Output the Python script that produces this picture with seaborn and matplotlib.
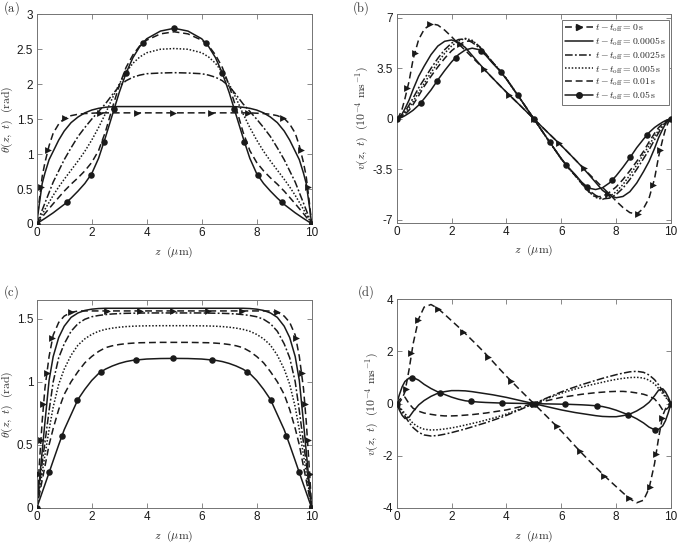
import numpy as np
import pandas as pd
import matplotlib
matplotlib.use("Agg")
import matplotlib.pyplot as plt
from matplotlib.lines import Line2D
import seaborn as sns

# ---------------- data ----------------
z = [0, 0.1, 0.2, 0.3, 0.45, 0.6, 0.8, 1.0, 1.25, 1.5, 1.75, 2.0, 2.25, 2.5, 2.75,
     3.0, 3.25, 3.5, 3.75, 4.0, 4.5, 5.0,
     5.5, 6.0, 6.25, 6.5, 6.75, 7.0, 7.25, 7.5, 7.75, 8.0, 8.25, 8.5, 8.75, 9.0,
     9.2, 9.4, 9.55, 9.7, 9.8, 9.9, 10.0]

labels = ["0", "0.0005", "0.0025", "0.005", "0.01", "0.05"]

# panel (a): theta (rad)
a_t0 = [0, 0.36, 0.68, 0.88, 1.12, 1.30, 1.43, 1.51, 1.55, 1.57, 1.58, 1.585, 1.59, 1.59, 1.59,
        1.59, 1.59, 1.59, 1.59, 1.59, 1.59, 1.59,
        1.59, 1.59, 1.59, 1.59, 1.59, 1.59, 1.59, 1.59, 1.59, 1.585, 1.58, 1.57, 1.55, 1.51,
        1.43, 1.30, 1.12, 0.88, 0.68, 0.36, 0.0]
a_t1 = [0, 0.30, 0.58, 0.73, 0.92, 1.04, 1.20, 1.33, 1.45, 1.53, 1.59, 1.63, 1.655, 1.67, 1.678,
        1.68, 1.68, 1.68, 1.68, 1.68, 1.68, 1.68,
        1.68, 1.68, 1.68, 1.68, 1.68, 1.68, 1.678, 1.67, 1.655, 1.63, 1.59, 1.53, 1.45, 1.33,
        1.20, 1.04, 0.92, 0.73, 0.58, 0.30, 0.0]
a_t2 = [0, 0.10, 0.20, 0.30, 0.45, 0.60, 0.76, 0.92, 1.09, 1.25, 1.38, 1.50, 1.61, 1.72, 1.85,
        1.97, 2.05, 2.10, 2.13, 2.15, 2.16, 2.165,
        2.16, 2.15, 2.13, 2.10, 2.05, 1.97, 1.85, 1.72, 1.61, 1.50, 1.38, 1.25, 1.09, 0.92,
        0.76, 0.60, 0.45, 0.30, 0.20, 0.10, 0.0]
a_t3 = [0, 0.07, 0.14, 0.21, 0.31, 0.41, 0.53, 0.64, 0.77, 0.90, 1.04, 1.20, 1.38, 1.58, 1.80,
        2.00, 2.17, 2.30, 2.39, 2.45, 2.50, 2.51,
        2.50, 2.45, 2.39, 2.30, 2.17, 2.00, 1.80, 1.58, 1.38, 1.20, 1.04, 0.90, 0.77, 0.64,
        0.53, 0.41, 0.31, 0.21, 0.14, 0.07, 0.0]
a_t4 = [0, 0.05, 0.10, 0.15, 0.22, 0.29, 0.38, 0.47, 0.57, 0.66, 0.76, 0.88, 1.05, 1.32, 1.66,
        1.98, 2.24, 2.42, 2.55, 2.63, 2.72, 2.75,
        2.72, 2.63, 2.55, 2.42, 2.24, 1.98, 1.66, 1.32, 1.05, 0.88, 0.76, 0.66, 0.57, 0.47,
        0.38, 0.29, 0.22, 0.15, 0.10, 0.05, 0.0]
a_t5 = [0, 0.03, 0.055, 0.08, 0.12, 0.16, 0.22, 0.28, 0.37, 0.47, 0.58, 0.72, 0.94, 1.24, 1.56,
        1.88, 2.16, 2.38, 2.54, 2.65, 2.76, 2.80,
        2.76, 2.65, 2.54, 2.38, 2.16, 1.88, 1.56, 1.24, 0.94, 0.72, 0.58, 0.47, 0.37, 0.28,
        0.22, 0.16, 0.12, 0.08, 0.055, 0.03, 0.0]
a_tri_z = [0, 0.15, 0.4, 1.03, 2.3, 3.64, 4.97, 6.33, 7.7, 8.97, 9.6, 9.85, 10]
a_tri_v = [0, 0.53, 1.06, 1.51, 1.59, 1.59, 1.59, 1.59, 1.59, 1.51, 1.06, 0.53, 0]
a_dot_z = [0, 1.09, 1.96, 2.46, 2.82, 3.25, 3.85, 5.0, 6.15, 6.75, 7.18, 7.54, 8.04, 8.91, 10]
a_dot_v = [0, 0.31, 0.70, 1.18, 1.65, 2.16, 2.59, 2.80, 2.59, 2.16, 1.65, 1.18, 0.70, 0.31, 0]

# panel (b): v (1e-4 m/s)
b_t0 = [0, 0.25, 0.7, 1.4, 2.6, 4.15, 5.5, 6.2, 6.6, 6.5, 6.15, 5.7, 5.2, 4.75, 4.27,
        3.8, 3.3, 2.82, 2.33, 1.85, 0.93, 0,
        -0.93, -1.85, -2.33, -2.82, -3.3, -3.8, -4.27, -4.75, -5.2, -5.7, -6.15, -6.5, -6.6, -6.2,
        -5.5, -4.15, -2.6, -1.4, -0.7, -0.25, 0]
b_t1 = [0, 0.12, 0.35, 0.7, 1.3, 2.05, 2.95, 3.65, 4.45, 5.05, 5.38, 5.47, 5.3, 4.95, 4.4,
        3.85, 3.32, 2.82, 2.33, 1.85, 0.93, 0,
        -0.93, -1.85, -2.33, -2.82, -3.32, -3.85, -4.4, -4.95, -5.3, -5.47, -5.38, -5.05, -4.45, -3.65,
        -2.95, -2.05, -1.3, -0.7, -0.35, -0.12, 0]
b_t2 = [0, 0.08, 0.25, 0.5, 0.95, 1.45, 2.15, 2.75, 3.5, 4.2, 4.8, 5.25, 5.5, 5.55, 5.3,
        4.95, 4.45, 3.9, 3.38, 2.78, 1.4, 0,
        -1.4, -2.78, -3.38, -3.9, -4.45, -4.95, -5.3, -5.55, -5.5, -5.25, -4.8, -4.2, -3.5, -2.75,
        -2.15, -1.45, -0.95, -0.5, -0.25, -0.08, 0]
b_t3 = [0, 0.07, 0.2, 0.4, 0.78, 1.2, 1.85, 2.45, 3.2, 3.9, 4.55, 5.05, 5.4, 5.58, 5.45,
        5.05, 4.5, 3.92, 3.38, 2.78, 1.4, 0,
        -1.4, -2.78, -3.38, -3.92, -4.5, -5.05, -5.45, -5.58, -5.4, -5.05, -4.55, -3.9, -3.2, -2.45,
        -1.85, -1.2, -0.78, -0.4, -0.2, -0.07, 0]
b_t4 = [0, 0.06, 0.16, 0.32, 0.6, 1.0, 1.6, 2.25, 2.95, 3.6, 4.2, 4.72, 5.1, 5.38, 5.4,
        5.05, 4.5, 3.92, 3.38, 2.78, 1.4, 0,
        -1.4, -2.78, -3.38, -3.92, -4.5, -5.05, -5.4, -5.38, -5.1, -4.72, -4.2, -3.6, -2.95, -2.25,
        -1.6, -1.0, -0.6, -0.32, -0.16, -0.06, 0]
b_t5 = [0, 0.05, 0.12, 0.22, 0.4, 0.6, 0.95, 1.4, 2.0, 2.7, 3.35, 3.95, 4.45, 4.78, 4.9,
        4.8, 4.4, 3.85, 3.35, 2.75, 1.4, 0,
        -1.4, -2.75, -3.35, -3.85, -4.4, -4.8, -4.9, -4.78, -4.45, -3.95, -3.35, -2.7, -2.0, -1.4,
        -0.95, -0.6, -0.4, -0.22, -0.12, -0.05, 0]
b_tri_z = [0.39, 0.67, 1.21, 2.3, 3.18, 4.09, 5.0, 5.91, 6.82, 7.7, 8.79, 9.33, 9.61]
b_tri_v = [2.13, 4.56, 6.58, 5.18, 3.44, 1.66, 0, -1.66, -3.44, -5.18, -6.58, -4.56, -2.13]
b_dot_z = [0, 0.87, 1.48, 2.15, 3.06, 3.81, 4.42, 5.0, 5.58, 6.19, 6.94, 7.85, 8.52, 9.13, 10]
b_dot_v = [0, 1.09, 2.65, 4.25, 4.73, 3.23, 1.62, 0, -1.62, -3.23, -4.73, -4.25, -2.65, -1.09, 0]

# panel (c): theta (rad)
c_t0 = [0, 0.36, 0.69, 0.95, 1.20, 1.37, 1.47, 1.52, 1.55, 1.56, 1.561, 1.561, 1.561, 1.561, 1.561,
        1.561, 1.561, 1.561, 1.561, 1.561, 1.561, 1.561,
        1.561, 1.561, 1.561, 1.561, 1.561, 1.561, 1.561, 1.561, 1.561, 1.561, 1.561, 1.56, 1.55, 1.52,
        1.47, 1.37, 1.20, 0.95, 0.69, 0.36, 0.0]
c_t1 = [0, 0.22, 0.45, 0.68, 1.01, 1.20, 1.35, 1.44, 1.51, 1.545, 1.565, 1.575, 1.58, 1.582, 1.582,
        1.582, 1.582, 1.582, 1.582, 1.582, 1.582, 1.582,
        1.582, 1.582, 1.582, 1.582, 1.582, 1.582, 1.582, 1.582, 1.58, 1.575, 1.565, 1.545, 1.51, 1.44,
        1.35, 1.20, 1.01, 0.68, 0.45, 0.22, 0.0]
c_t2 = [0, 0.18, 0.36, 0.52, 0.77, 1.00, 1.19, 1.30, 1.40, 1.46, 1.495, 1.515, 1.525, 1.532, 1.537,
        1.54, 1.542, 1.543, 1.544, 1.545, 1.545, 1.545,
        1.545, 1.545, 1.544, 1.543, 1.542, 1.54, 1.537, 1.532, 1.525, 1.515, 1.495, 1.46, 1.40, 1.30,
        1.19, 1.00, 0.77, 0.52, 0.36, 0.18, 0.0]
c_t3 = [0, 0.14, 0.28, 0.42, 0.62, 0.80, 0.98, 1.10, 1.21, 1.29, 1.34, 1.375, 1.40, 1.415, 1.425,
        1.432, 1.437, 1.44, 1.442, 1.443, 1.444, 1.444,
        1.444, 1.443, 1.442, 1.44, 1.437, 1.432, 1.425, 1.415, 1.40, 1.375, 1.34, 1.29, 1.21, 1.10,
        0.98, 0.80, 0.62, 0.42, 0.28, 0.14, 0.0]
c_t4 = [0, 0.11, 0.22, 0.33, 0.50, 0.63, 0.78, 0.90, 1.00, 1.08, 1.15, 1.20, 1.24, 1.27, 1.285,
        1.295, 1.302, 1.306, 1.309, 1.31, 1.312, 1.312,
        1.312, 1.31, 1.309, 1.306, 1.302, 1.295, 1.285, 1.27, 1.24, 1.20, 1.15, 1.08, 1.00, 0.90,
        0.78, 0.63, 0.50, 0.33, 0.22, 0.11, 0.0]
c_t5 = [0, 0.062, 0.124, 0.186, 0.28, 0.375, 0.50, 0.62, 0.74, 0.86, 0.94, 1.01, 1.065, 1.10, 1.125,
        1.145, 1.16, 1.17, 1.175, 1.18, 1.184, 1.185,
        1.184, 1.18, 1.175, 1.17, 1.16, 1.145, 1.125, 1.10, 1.065, 1.01, 0.94, 0.86, 0.74, 0.62,
        0.50, 0.375, 0.28, 0.186, 0.124, 0.062, 0.0]
c_tri_z = [0, 0.08, 0.145, 0.24, 0.36, 0.57, 1.26, 2.55, 3.76, 4.97, 6.24, 7.45, 8.74, 9.43,
           9.64, 9.76, 9.855, 9.92, 10]
c_tri_v = [0, 0.27, 0.54, 0.82, 1.07, 1.35, 1.55, 1.561, 1.561, 1.561, 1.561, 1.561, 1.55, 1.35,
           1.07, 0.82, 0.54, 0.27, 0]
c_dot_z = [0, 0.46, 0.91, 1.48, 2.34, 3.61, 4.97, 6.36, 7.64, 8.51, 9.07, 9.52, 10]
c_dot_v = [0, 0.286, 0.571, 0.854, 1.079, 1.172, 1.185, 1.172, 1.079, 0.854, 0.571, 0.286, 0]

# panel (d): v (1e-4 m/s)
d_t0 = [0, 0.05, 0.2, 0.45, 1.3, 2.3, 3.25, 3.7, 3.8, 3.65, 3.42, 3.18, 2.94, 2.69, 2.43,
        2.17, 1.9, 1.62, 1.33, 1.05, 0.52, 0,
        -0.52, -1.05, -1.33, -1.62, -1.9, -2.17, -2.43, -2.69, -2.94, -3.18, -3.42, -3.65, -3.8, -3.7,
        -3.25, -2.3, -1.3, -0.45, -0.2, -0.05, 0]
d_t1 = [0, -0.25, -0.45, -0.57, -0.52, -0.30, -0.05, 0.12, 0.28, 0.40, 0.46, 0.50, 0.50, 0.49, 0.46,
        0.42, 0.38, 0.34, 0.29, 0.24, 0.12, 0,
        -0.12, -0.24, -0.29, -0.34, -0.38, -0.42, -0.46, -0.49, -0.50, -0.50, -0.46, -0.40, -0.28, -0.12,
        0.05, 0.30, 0.52, 0.57, 0.45, 0.25, 0]
d_t2 = [0, -0.15, -0.32, -0.48, -0.72, -0.92, -1.10, -1.20, -1.24, -1.22, -1.17, -1.11, -1.04, -0.97, -0.89,
        -0.81, -0.73, -0.64, -0.55, -0.45, -0.23, 0,
        0.23, 0.45, 0.55, 0.64, 0.73, 0.81, 0.89, 0.97, 1.04, 1.11, 1.17, 1.22, 1.24, 1.20,
        1.10, 0.92, 0.72, 0.48, 0.32, 0.15, 0]
d_t3 = [0, -0.12, -0.25, -0.38, -0.58, -0.76, -0.90, -0.98, -1.01, -1.00, -0.97, -0.93, -0.88, -0.82, -0.76,
        -0.70, -0.63, -0.56, -0.48, -0.40, -0.20, 0,
        0.20, 0.40, 0.48, 0.56, 0.63, 0.70, 0.76, 0.82, 0.88, 0.93, 0.97, 1.00, 1.01, 0.98,
        0.90, 0.76, 0.58, 0.38, 0.25, 0.12, 0]
d_t4 = [0, 0.15, 0.25, 0.25, 0.0, -0.18, -0.29, -0.36, -0.41, -0.45, -0.47, -0.47, -0.46, -0.44, -0.42,
        -0.39, -0.36, -0.32, -0.28, -0.24, -0.12, 0,
        0.12, 0.24, 0.28, 0.32, 0.36, 0.39, 0.42, 0.44, 0.46, 0.47, 0.47, 0.45, 0.41, 0.36,
        0.29, 0.18, 0.0, -0.25, -0.25, -0.15, 0]
d_t5 = [0, 0.35, 0.65, 0.85, 0.98, 1.00, 0.90, 0.74, 0.58, 0.45, 0.35, 0.25, 0.17, 0.11, 0.08,
        0.06, 0.045, 0.035, 0.025, 0.02, 0.01, 0,
        -0.01, -0.02, -0.025, -0.035, -0.045, -0.06, -0.08, -0.11, -0.17, -0.25, -0.35, -0.45, -0.58, -0.74,
        -0.90, -1.00, -0.98, -0.85, -0.65, -0.35, 0]
d_tri_z = [0.33, 0.53, 0.78, 1.52, 2.43, 3.33, 4.16, 5.0, 5.84, 6.67, 7.57, 8.48, 9.22, 9.47, 9.67]
d_tri_v = [0.56, 1.93, 3.2, 3.63, 2.76, 1.8, 0.87, 0, -0.87, -1.8, -2.76, -3.63, -3.2, -1.93, -0.56]
d_dot_z = [0, 0.57, 1.58, 2.7, 3.85, 4.94, 5.06, 6.15, 7.3, 8.42, 9.43, 10]
d_dot_v = [0, 1.0, 0.42, 0.09, 0.02, 0, 0, -0.02, -0.09, -0.42, -1.0, 0]

# ---------------- styling ----------------
sns.set_theme(style="ticks")
plt.rcParams["font.family"] = ["Liberation Sans", "DejaVu Sans"]
plt.rcParams["mathtext.fontset"] = "cm"
plt.rcParams["axes.unicode_minus"] = False

styles = [
    dict(linestyle=(0, (4.5, 2.5))),                # t=0 (with triangles)
    dict(linestyle="-"),                           # 0.0005
    dict(linestyle=(0, (5, 1.5, 1.2, 1.5))),       # 0.0025 dash-dot
    dict(linestyle=(0, (1, 1.2))),                 # 0.005 dotted
    dict(linestyle=(0, (4.5, 2.5))),               # 0.01 dashed
    dict(linestyle="-"),                           # 0.05 (with dots)
]

fig = plt.figure(figsize=(6.77, 5.44), dpi=100)
W, H = 677.0, 544.0


def make_ax(l, r, t, b):
    return fig.add_axes([l / W, 1 - b / H, (r - l) / W, (b - t) / H])


axA = make_ax(36.7, 311.7, 14.3, 224.0)
axB = make_ax(396.7, 671.0, 14.3, 222.7)
axC = make_ax(36.7, 311.7, 299.7, 508.0)
axD = make_ax(396.7, 671.0, 299.3, 508.0)

theta_lab = r"$\theta(z,\ t)\ \ (\mathrm{rad})$"
v_lab = r"$v(z,\ t)\ \ (10^{-4}\ \mathrm{ms}^{-1})$"

panels = [
    (axA, [a_t0, a_t1, a_t2, a_t3, a_t4, a_t5], (a_tri_z, a_tri_v), (a_dot_z, a_dot_v),
     (0, 3), [0, 0.5, 1, 1.5, 2, 2.5, 3], ["0", "0.5", "1", "1.5", "2", "2.5", "3"],
     theta_lab, "(a)"),
    (axB, [b_t0, b_t1, b_t2, b_t3, b_t4, b_t5], (b_tri_z, b_tri_v), (b_dot_z, b_dot_v),
     (-7.2, 7.25), [-7, -3.5, 0, 3.5, 7], ["-7", "-3.5", "0", "3.5", "7"],
     v_lab, "(b)"),
    (axC, [c_t0, c_t1, c_t2, c_t3, c_t4, c_t5], (c_tri_z, c_tri_v), (c_dot_z, c_dot_v),
     (0, 1.65), [0, 0.5, 1, 1.5], ["0", "0.5", "1", "1.5"],
     theta_lab, "(c)"),
    (axD, [d_t0, d_t1, d_t2, d_t3, d_t4, d_t5], (d_tri_z, d_tri_v), (d_dot_z, d_dot_v),
     (-4, 4), [-4, -2, 0, 2, 4], ["-4", "-2", "0", "2", "4"],
     v_lab, "(d)"),
]

label_pos = {"(a)": (3, 8), "(b)": (352, 8), "(c)": (3, 292), "(d)": (357, 292)}

for ax, series, tri, dot, ylim, yt, ytl, ylab, plab in panels:
    for vals, st in zip(series, styles):
        df = pd.DataFrame({"z": z, "v": vals})
        sns.lineplot(data=df, x="z", y="v", ax=ax, color="k", lw=1.1,
                     sort=False, estimator=None, legend=False, **st)
    sns.scatterplot(x=tri[0], y=tri[1], ax=ax, marker=">", color="k", s=24,
                    linewidth=0, legend=False, zorder=5)
    sns.scatterplot(x=dot[0], y=dot[1], ax=ax, marker="o", color="k", s=22,
                    linewidth=0, legend=False, zorder=5)
    ax.set_xlim(0, 10)
    ax.set_ylim(*ylim)
    ax.set_xticks([0, 2, 4, 6, 8, 10])
    ax.set_xticklabels(["0", "2", "4", "6", "8", "10"])
    ax.set_yticks(yt)
    ax.set_yticklabels(ytl)
    ax.tick_params(direction="in", top=True, right=True, length=3.5, width=0.5,
                   color="0.35", labelsize=8.5, pad=2.5, labelcolor="k")
    for sp in ax.spines.values():
        sp.set_color("0.45")
        sp.set_linewidth(0.7)
    ax.set_xlabel(r"$z\ \ (\mu\mathrm{m})$", fontsize=8.5, labelpad=3.5, color="0.2")
    ax.set_ylabel(ylab, fontsize=8.5, labelpad=1.5, color="0.2")
    x, y = label_pos[plab]
    fig.text(x / W, 1 - y / H, r"$\mathrm{" + plab + "}$", fontsize=9,
             ha="left", va="center", color="0.2")

handles = []
for i, st in enumerate(styles):
    mk = ">" if i == 0 else ("o" if i == 5 else None)
    handles.append(Line2D([], [], color="k", lw=1.1, marker=mk, markersize=4, **st))
leg_labels = [r"$t - t_{\mathrm{off}} = " + lb + r"\,\mathrm{s}$" for lb in labels]
leg = axB.legend(handles, leg_labels, loc="upper right", bbox_to_anchor=(0.993, 0.975),
                 fontsize=7.0, frameon=True, fancybox=False, framealpha=1,
                 edgecolor="0.45", borderaxespad=0, handlelength=2.9, handletextpad=0.2,
                 labelspacing=0.12, borderpad=0.3)
leg.get_frame().set_linewidth(0.7)

fig.savefig("out.png", dpi=100)
